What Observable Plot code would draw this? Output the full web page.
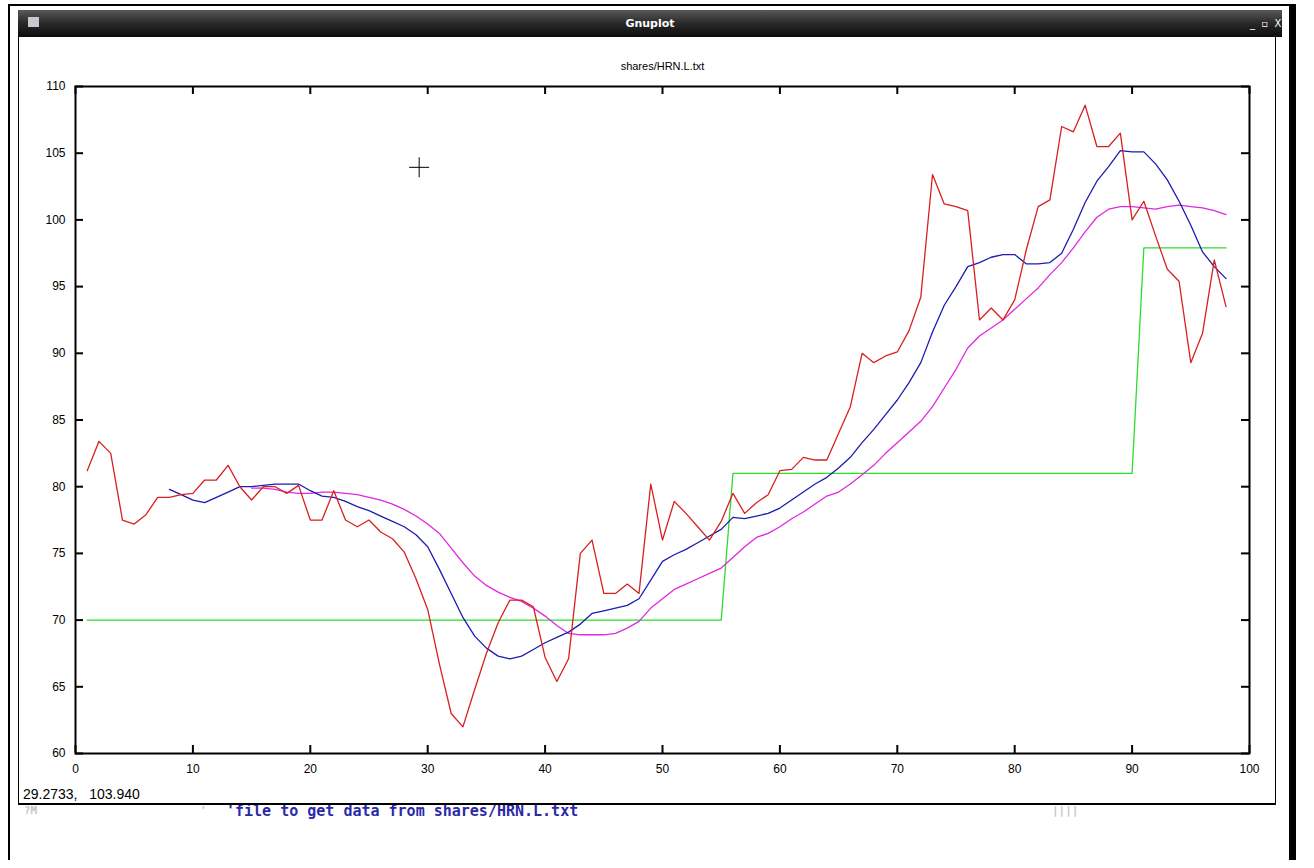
<!DOCTYPE html>
<html>
<head>
<meta charset="utf-8">
<script src="https://cdn.jsdelivr.net/npm/d3@7"></script>
<script src="https://cdn.jsdelivr.net/npm/@observablehq/plot@0.6"></script>
<style>
html,body{margin:0;padding:0;background:#fff;width:1314px;height:868px;overflow:hidden;font-family:"Liberation Sans",Arial,sans-serif;}
.abs{position:absolute;}
#outer{left:8px;top:4px;width:1283px;height:854px;border-left:2px solid #000;border-top:2px solid #000;}
#bar{left:1289px;top:4px;width:7px;height:856px;background:#000;}
#win{left:18px;top:10px;width:1256px;height:792px;border:1px solid #000;border-bottom:2px solid #000;background:#fff;}
#titlebar{left:18px;top:10px;width:1264px;height:27px;background:linear-gradient(#5a5a5a 0%,#2c2c2c 45%,#0c0c0c 100%);color:#fff;font-weight:bold;font-size:11px;text-align:center;line-height:27px;font-family:"DejaVu Sans",sans-serif;}
#icon{left:28px;top:17px;width:11px;height:10px;background:#c8c8d0;}
#btns{left:1250px;top:10px;height:27px;line-height:27px;color:#fff;font-size:10px;font-family:"DejaVu Sans",sans-serif;white-space:pre;}
#status{left:23px;top:786px;font-size:14px;white-space:pre;color:#000;}
.term{position:absolute;top:803px;white-space:pre;font-family:"DejaVu Sans Mono",monospace;font-size:15px;line-height:16px;font-weight:bold;}
#chart{left:0;top:0;}
</style>
</head>
<body>
<div id="outer" class="abs"></div>
<div id="bar" class="abs"></div>
<div class="term" style="left:24px;color:#c4c4c4;font-size:11px;">?M</div>
<div class="term" style="left:200px;color:#c4c4c4;font-size:11px;">'</div>
<div class="term" style="left:226px;color:#2a2aa8;">'file to get data from shares/HRN.L.txt</div>
<div class="term" style="left:1052px;color:#c4c4c4;font-size:11px;">||||</div>
<div id="win" class="abs"></div>
<div id="titlebar" class="abs">Gnuplot</div>
<div id="icon" class="abs"></div>
<div id="btns" class="abs">_  ▫  X</div>
<div id="chart" class="abs"></div>
<div id="status" class="abs">29.2733,   103.940</div>
<script>
// ---- data ----
const plotTitle = "shares/HRN.L.txt";
const xTicks = [0,10,20,30,40,50,60,70,80,90,100];
const yTicks = [60,65,70,75,80,85,90,95,100,105,110];

// red: price, x = 1..98
const priceStart = 1;
const price = [81.2,83.4,82.5,77.5,77.2,77.9,79.2,79.2,79.4,79.5,
  80.5,80.5,81.6,80.0,79.0,80.0,80.0,79.5,80.1,77.5,
  77.5,79.7,77.5,77.0,77.5,76.6,76.1,75.1,73.1,70.8,
  66.7,63.0,62.0,64.8,67.5,69.8,71.5,71.5,71.0,67.2,
  65.4,67.1,75.0,76.0,72.0,72.0,72.7,72.0,80.2,76.0,
  78.9,78.0,77.0,76.0,77.4,79.5,78.0,78.8,79.4,81.2,
  81.3,82.2,82.0,82.0,84.0,86.0,90.0,89.3,89.8,90.1,
  91.7,94.2,103.4,101.2,101.0,100.7,92.5,93.4,92.5,94.0,
  97.8,101.0,101.5,107.0,106.6,108.6,105.5,105.5,106.5,100.0,
  101.4,98.8,96.3,95.4,89.3,91.5,97.0,93.5];

// blue: short average, x = 8..98
const shortStart = 8;
const shortAvg = [79.8,79.4,79.0,78.8,79.2,79.6,80.0,80.0,80.1,80.2,
  80.2,80.2,79.7,79.3,79.2,78.9,78.5,78.2,77.8,77.4,
  77.0,76.4,75.5,73.8,72.0,70.2,68.8,67.9,67.3,67.1,
  67.3,67.8,68.3,68.7,69.1,69.7,70.5,70.7,70.9,71.1,
  71.6,73.0,74.4,74.9,75.3,75.8,76.3,76.8,77.7,77.6,
  77.8,78.0,78.4,79.0,79.6,80.2,80.7,81.4,82.2,83.3,
  84.3,85.4,86.5,87.8,89.3,91.6,93.6,95.0,96.5,96.8,
  97.2,97.4,97.4,96.7,96.7,96.8,97.5,99.3,101.3,102.9,
  104.0,105.2,105.1,105.1,104.2,103.0,101.4,99.6,97.6,96.5,
  95.6];

// magenta: long average, x = 15..98
const longStart = 15;
const longAvg = [79.9,79.9,79.8,79.6,79.5,79.5,79.6,79.6,79.5,79.4,
  79.2,79.0,78.7,78.3,77.8,77.2,76.5,75.4,74.3,73.3,
  72.6,72.1,71.7,71.4,70.9,70.3,69.6,69.0,68.9,68.9,
  68.9,69.0,69.4,69.9,70.9,71.6,72.3,72.7,73.1,73.5,
  73.9,74.7,75.5,76.2,76.5,77.0,77.6,78.1,78.7,79.3,
  79.6,80.2,80.9,81.6,82.5,83.3,84.1,84.9,86.0,87.4,
  88.8,90.4,91.3,91.9,92.5,93.3,94.1,94.9,95.9,96.8,
  97.9,99.1,100.2,100.8,101.0,101.0,100.9,100.8,101.0,101.1,
  101.0,100.9,100.7,100.4];

// green: level steps
const levelX = [1,55,56,90,91,98];
const levelY = [70,70,81,81,97.9,97.9];

// mouse cursor position (from the status line)
const cursorX = [29.2733];
const cursorY = [103.940];

// ---- build tables ----
const toRows = (arr, start) => arr.map((v,i)=>({x:start+i, y:v}));
const redRows = toRows(price, priceStart);
const blueRows = toRows(shortAvg, shortStart);
const magRows = toRows(longAvg, longStart);
const greenRows = levelX.map((x,i)=>({x, y:levelY[i]}));
const cursorRows = cursorX.map((x,i)=>({x, y:cursorY[i]}));

const W = 1314, H = 868;
const mL = 75, mR = 65, mT = 86, mB = 115;
const innerH = H - mT - mB, innerW = W - mL - mR;
const tickLen = 8;

const crossSymbol = {
  draw(ctx, size) {
    const r = Math.sqrt(size / Math.PI);
    ctx.moveTo(-r, 0); ctx.lineTo(r, 0);
    ctx.moveTo(0, -r); ctx.lineTo(0, r);
  }
};

const chart = Plot.plot({
  width: W, height: H,
  marginLeft: mL, marginRight: mR, marginTop: mT, marginBottom: mB,
  x: {domain: [0, 100], label: null},
  y: {domain: [60, 110], label: null},
  style: {background: "transparent", overflow: "visible", fontFamily: "'Liberation Sans', Arial, sans-serif", fontSize: "12px", color: "#000"},
  marks: [
    Plot.axisX(xTicks, {anchor: "bottom", tickSize: 0, tickPadding: 11, fontSize: 12, label: null}),
    Plot.axisY(yTicks, {anchor: "left", tickSize: 0, tickPadding: 10, fontSize: 12, label: null}),
    Plot.text([plotTitle], {frameAnchor: "top", dy: -24, fontSize: 11, text: d => d}),
    // inward ticks, all four sides
    Plot.tickX(xTicks, {x: d => d, insetTop: innerH - tickLen, stroke: "#000", strokeWidth: 2}),
    Plot.tickX(xTicks, {x: d => d, insetBottom: innerH - tickLen, stroke: "#000", strokeWidth: 2}),
    Plot.tickY(yTicks, {y: d => d, insetRight: innerW - tickLen, stroke: "#000", strokeWidth: 2}),
    Plot.tickY(yTicks, {y: d => d, insetLeft: innerW - tickLen, stroke: "#000", strokeWidth: 2}),
    Plot.line(greenRows, {x: "x", y: "y", stroke: "#2edc2e", strokeWidth: 1.3}),
    Plot.line(magRows, {x: "x", y: "y", stroke: "#e028e0", strokeWidth: 1.3}),
    Plot.line(blueRows, {x: "x", y: "y", stroke: "#1c1cb0", strokeWidth: 1.3}),
    Plot.line(redRows, {x: "x", y: "y", stroke: "#d82020", strokeWidth: 1.3}),
    Plot.frame({stroke: "#000", strokeWidth: 2}),
    Plot.dot(cursorRows, {x: "x", y: "y", symbol: crossSymbol, r: 10, stroke: "#000", fill: "none", strokeWidth: 1})
  ]
});
document.getElementById("chart").appendChild(chart);
</script>
</body>
</html>
